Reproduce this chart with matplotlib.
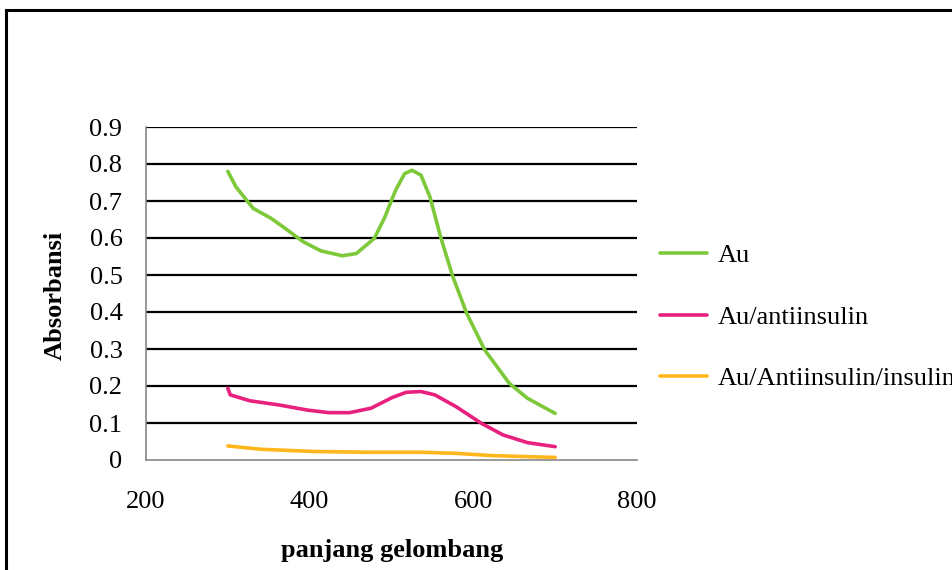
import matplotlib
matplotlib.use("Agg")
import matplotlib.pyplot as plt
from matplotlib.patches import Rectangle

plt.rcParams['font.family'] = ['Liberation Serif', 'DejaVu Serif']

# Data (wavelength nm, absorbance)
x_au = [300, 310, 331, 353, 370, 392, 414, 440, 457, 479, 492, 505, 516, 525,
        536, 547, 560, 575, 592, 614, 644, 666, 700]
y_au = [0.780, 0.738, 0.680, 0.653, 0.626, 0.590, 0.565, 0.552, 0.558, 0.599,
        0.657, 0.729, 0.774, 0.783, 0.770, 0.711, 0.603, 0.495, 0.396, 0.297,
        0.207, 0.167, 0.126]

x_anti = [300, 303, 327, 362, 397, 423, 449, 475, 501, 518, 536, 553, 579, 610,
          636, 666, 700]
y_anti = [0.194, 0.176, 0.160, 0.149, 0.135, 0.128, 0.128, 0.140, 0.169, 0.183,
          0.185, 0.176, 0.144, 0.099, 0.068, 0.047, 0.036]

x_ins = [300, 340, 405, 470, 536, 579, 622, 666, 700]
y_ins = [0.038, 0.029, 0.023, 0.021, 0.021, 0.018, 0.012, 0.009, 0.007]

labels = ["Au", "Au/antiinsulin", "Au/Antiinsulin/insulin"]
colors = ["#7DC93A", "#E8207E", "#FFB71B"]
x_ticks = [200, 400, 600, 800]
y_ticks = [0, 0.1, 0.2, 0.3, 0.4, 0.5, 0.6, 0.7, 0.8, 0.9]

FS = 19

fig = plt.figure(figsize=(9.53, 5.70), dpi=100)
fig.patch.set_facecolor("white")

# outer frame
fig.patches.append(Rectangle((6/953, -0.05), 1.2, 1 - 10/570 + 0.05,
                             transform=fig.transFigure, fill=False,
                             edgecolor="black", linewidth=2.2))

ax = fig.add_axes([146/953, 1 - 460/570, (637 - 146)/953, (460 - 127)/570])
ax.set_xlim(200, 800)
ax.set_ylim(0, 0.9)

for yv in y_ticks[1:]:
    ax.axhline(yv, color="black", linewidth=1.6, zorder=1)

for xs, ys, c, lab in zip([x_au, x_anti, x_ins], [y_au, y_anti, y_ins], colors, labels):
    ax.plot(xs, ys, color=c, linewidth=2.6, label=lab, solid_capstyle="round",
            solid_joinstyle="round", zorder=3)

for s in ["top", "right"]:
    ax.spines[s].set_visible(False)
ax.spines["left"].set_color("#888888")
ax.spines["bottom"].set_color("#888888")
ax.spines["left"].set_linewidth(1.2)
ax.spines["bottom"].set_linewidth(1.2)

ax.set_xticks(x_ticks)
ax.set_xticklabels([str(v) for v in x_ticks])
ax.set_yticks(y_ticks)
ax.set_yticklabels(["0"] + [f"{v:.1f}" for v in y_ticks[1:]])
ax.tick_params(axis="both", length=0, labelsize=FS)
ax.tick_params(axis="y", pad=17)
ax.tick_params(axis="x", pad=22)

fig.text(55/953, 1 - 295/570, "Absorbansi", rotation=90, ha="center", va="center",
         fontsize=FS, fontweight="bold")
fig.text(392/953, 1 - 551/570, "panjang gelombang", ha="center", va="center",
         fontsize=FS, fontweight="bold")

leg = ax.legend(loc="center left", bbox_to_anchor=(660/953, 1 - 317/570),
                bbox_transform=fig.transFigure, frameon=False, fontsize=FS,
                handlelength=1.8, handletextpad=0.38, labelspacing=1.45,
                borderaxespad=0, borderpad=0)

fig.savefig("out.png", dpi=100)
